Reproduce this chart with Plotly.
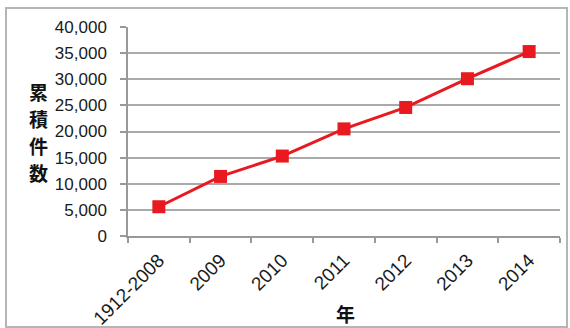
import plotly.graph_objects as go

years = ["1912-2008", "2009", "2010", "2011", "2012", "2013", "2014"]
counts = [5600, 11400, 15300, 20500, 24600, 30100, 35300]
y_ticks = [0, 5000, 10000, 15000, 20000, 25000, 30000, 35000, 40000]
y_labels = ["0", "5,000", "10,000", "15,000", "20,000", "25,000", "30,000", "35,000", "40,000"]
y_title_chars = ["累", "積", "件", "数"]
x_title = "年"

W, H = 570, 328
L, R, T, B = 128, 10, 27, 92
pw = W - L - R
ph = H - T - B

def px(x):
    return (x - L) / pw

def py(y):
    return (H - B - y) / ph

fig = go.Figure()
fig.add_trace(go.Scatter(
    x=years, y=counts, mode="lines+markers",
    line=dict(color="#e8191f", width=3),
    marker=dict(symbol="square", size=13, color="#e8191f"),
    showlegend=False,
))

font = "Liberation Sans, Arial, sans-serif"
title_font = dict(family="Noto Sans CJK JP", size=19, color="#111", weight="bold")

annotations = []
for i, ch in enumerate(y_title_chars):
    annotations.append(dict(
        text=ch, xref="paper", yref="paper",
        x=px(38), y=py(91 + i * 27.3), xanchor="center", yanchor="middle",
        showarrow=False, font=title_font,
    ))
annotations.append(dict(
    text=x_title, xref="paper", yref="paper",
    x=px(345), y=py(313), xanchor="center", yanchor="middle",
    showarrow=False, font=title_font,
))

fig.update_layout(
    width=W, height=H,
    margin=dict(l=L, r=R, t=T, b=B),
    paper_bgcolor="white", plot_bgcolor="white",
    font=dict(family=font, size=17, color="#1a1a1a"),
    xaxis=dict(
        type="category", tickangle=-45, tickson="boundaries",
        ticks="outside", ticklen=5, tickcolor="#999", tickwidth=1.5,
        showline=True, linecolor="#999", linewidth=1.5,
        showgrid=False, tickfont=dict(size=19), automargin=False,
        ticklabelstandoff=4,
        range=[-0.5, 6.5],
    ),
    yaxis=dict(
        range=[0, 40000], tickvals=y_ticks, ticktext=y_labels,
        ticks="outside", ticklen=6, tickcolor="#999", tickwidth=1.5,
        showline=True, linecolor="#999", linewidth=1.5,
        gridcolor="#aaaaaa", gridwidth=1.5, zeroline=False,
        tickfont=dict(size=17), ticklabelstandoff=10, automargin=False,
    ),
    shapes=[dict(
        type="rect", xref="paper", yref="paper",
        x0=px(6), x1=px(567), y0=py(327), y1=py(8),
        line=dict(color="#b5b5b5", width=2), fillcolor="rgba(0,0,0,0)", layer="below",
    )],
    annotations=annotations,
)

fig.write_html("out.html")
